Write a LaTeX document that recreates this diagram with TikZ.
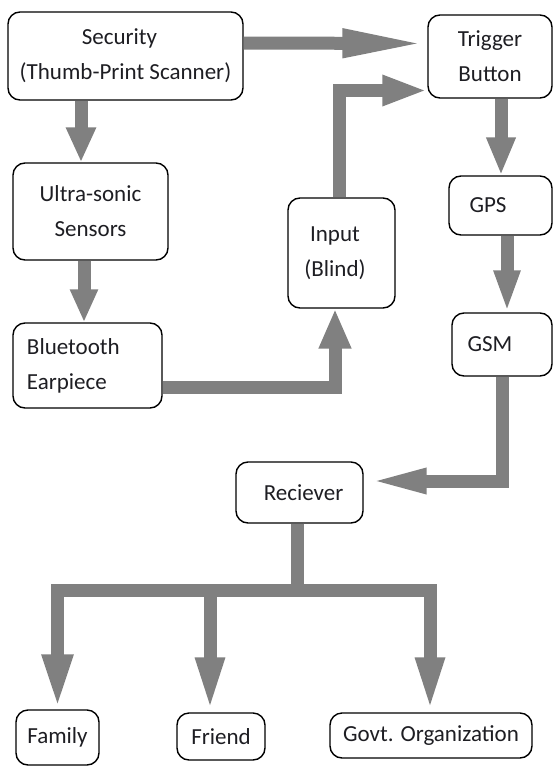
\documentclass[tikz,border=0pt]{standalone}
\usepackage{fontspec}
\setmainfont{Carlito}
\usetikzlibrary{arrows.meta}
\definecolor{arrgray}{RGB}{128,128,128}
\definecolor{txt}{RGB}{30,30,35}
\begin{document}
\begin{tikzpicture}[x=1pt,y=-1pt,
  box/.style={draw=black, line width=1.4pt, rounded corners=12pt, fill=white,
    align=center, inner sep=0pt, text=txt, font=\fontsize{23}{35}\selectfont},
  arr/.style={draw=arrgray, line width=13pt, line join=miter},
  tipp/.style 2 args={-{Triangle[length=#1pt, width=#2pt]}},
]
\useasboundingbox (0,0) rectangle (554,766);

\node[box, minimum width=235pt, minimum height=88pt] (sec) at (125.5,56) {Security\kern12pt\\(Thumb-Print Scanner)};
\node[box, minimum width=124pt, minimum height=83pt] (trig) at (490,56.5) {Trigger\\Button};
\node[box, minimum width=103pt, minimum height=59pt] (gps) at (500.5,205.5) {GPS\hspace{25pt}};
\node[box, minimum width=107pt, minimum height=110pt] (inp) at (341.5,253) {Input\kern13pt\\(Blind)\kern13pt};
\node[box, minimum width=155pt, minimum height=97pt] (ult) at (90.5,211.5) {Ultra-sonic\\Sensors};
\node[box, minimum width=149pt, minimum height=85pt, text width=121pt, align=left] (blu) at (87.5,365.5) {Bluetooth\\Earpiece};
\node[box, minimum width=100pt, minimum height=63pt] (gsm) at (502,344.5) {GSM\hspace{24pt}};
\node[box, minimum width=127pt, minimum height=61pt] (rec) at (299.5,492.5) {\hspace{8pt}Reciever};
\node[box, minimum width=83pt, minimum height=55pt] (fam) at (57.5,737.5) {Family};
\node[box, minimum width=88pt, minimum height=47pt] (fri) at (221,736.5) {Friend};
\node[box, minimum width=202pt, minimum height=45pt] (gov) at (431,735.5) {Govt. Organization};

\coordinate (hub) at (297,590);

% connectors
\draw[arr, tipp={85}{26}] ([yshift=13pt]sec.east) -- ([yshift=13pt]trig.west);
\draw[arr, tipp={45}{28}] ([xshift=-2.5pt]inp.north) |- ([yshift=-34pt]trig.west);
\draw[arr, tipp={35}{28}] ([xshift=-44.5pt]sec.south) -- ([xshift=-44.5pt]sec.south |- ult.north);
\draw[arr, tipp={33}{26}] ([xshift=-6.5pt]ult.south) -- ([xshift=-6.5pt]ult.south |- blu.north);
\draw[arr, tipp={40}{30}] ([yshift=-21.5pt]blu.east) -| ([xshift=-6.5pt]inp.south);
\draw[arr, tipp={38}{27}] ([xshift=11pt]trig.south) -- ([xshift=11pt]trig.south |- gps.north);
\draw[arr, tipp={42}{24}] ([xshift=6.5pt]gps.south) -- ([xshift=6.5pt]gps.south |- gsm.north);
\draw[arr, tipp={63}{22}] ([xshift=0pt]gsm.south) |- ([yshift=11.5pt]rec.east);
\draw[arr] ([xshift=-2.5pt]rec.south) -- (hub);
\draw[arr, tipp={55}{28}] (hub) -| (fam.north);
\draw[arr, tipp={55}{26}] (hub) -| ([xshift=-11pt]fri.north);
\draw[arr, tipp={55}{26}] (hub) -| ([xshift=-1pt]gov.north);
\end{tikzpicture}
\end{document}
